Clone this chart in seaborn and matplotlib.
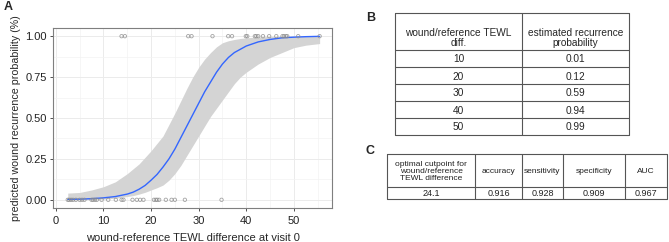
import numpy as np
import pandas as pd
import matplotlib
matplotlib.use("Agg")
import matplotlib.pyplot as plt
import seaborn as sns

# ---------------- data ----------------
pts_x_one = [13.8, 14.5, 27.8, 28.5, 32.9, 36.2, 37.0, 39.9, 40.2, 41.8, 42.1, 42.5,
             43.5, 44.8, 46.3, 47.6, 47.9, 48.3, 48.6, 50.9, 55.4]
pts_x_zero = [2.5, 2.8, 3.2, 3.6, 4.2, 5.0, 5.5, 6.0, 7.5, 7.8, 8.2, 8.6, 9.6, 11.0,
              12.6, 13.8, 14.2, 16.1, 17.0, 17.7, 18.4, 20.6, 21.0, 21.3, 21.7, 23.1,
              24.3, 25.0, 27.1, 34.8]

curve_x = [2.5, 5, 7.5, 10, 12.5, 15, 16.25, 17.5, 18.75, 20, 21.25, 22.5, 23.75, 25,
           26.25, 27.5, 28.75, 30, 31.25, 32.5, 33.75, 35, 36.25, 37.5, 38.75, 40,
           42.5, 45, 47.5, 50, 52.5, 55.4]
curve_p = [0.003, 0.004, 0.007, 0.012, 0.02, 0.035, 0.047, 0.065, 0.088, 0.12, 0.155,
           0.2, 0.25, 0.31, 0.38, 0.45, 0.52, 0.59, 0.66, 0.72, 0.78, 0.83, 0.87, 0.9,
           0.92, 0.94, 0.965, 0.98, 0.99, 0.994, 0.997, 0.999]
ci_low = [0.0, 0.0, 0.002, 0.004, 0.01, 0.02, 0.026, 0.035, 0.046, 0.06, 0.074, 0.09,
          0.12, 0.16, 0.21, 0.27, 0.33, 0.39, 0.45, 0.51, 0.56, 0.61, 0.66, 0.71, 0.75,
          0.78, 0.83, 0.87, 0.9, 0.93, 0.945, 0.955]
ci_high = [0.041, 0.045, 0.06, 0.08, 0.11, 0.16, 0.19, 0.22, 0.26, 0.30, 0.345, 0.39,
           0.46, 0.53, 0.605, 0.68, 0.75, 0.81, 0.86, 0.90, 0.935, 0.96, 0.972, 0.98,
           0.986, 0.99, 0.995, 0.998, 0.999, 1.0, 1.0, 1.0]

x_ticks = [0, 10, 20, 30, 40, 50]
y_ticks = [0.00, 0.25, 0.50, 0.75, 1.00]

tabB_header = ["wound/reference TEWL\ndiff.", "estimated recurrence\nprobability"]
tabB_diff = ["10", "20", "30", "40", "50"]
tabB_prob = ["0.01", "0.12", "0.59", "0.94", "0.99"]

tabC_header = ["optimal cutpoint for\nwound/reference\nTEWL difference", "accuracy",
               "sensitivity", "specificity", "AUC"]
tabC_values = ["24.1", "0.916", "0.928", "0.909", "0.967"]

# ---------------- figure ----------------
sns.set_style("white")
plt.rcParams['font.family'] = ['Liberation Sans', 'DejaVu Sans']

W, H = 669, 242
fig = plt.figure(figsize=(W / 100, H / 100), dpi=100)

# Panel A
ax = fig.add_axes([53 / W, 1 - 208 / H, (332 - 53) / W, (208 - 28) / H])
ax.set_facecolor("white")
ax.fill_between(curve_x, ci_low, ci_high, color="#d4d4d4", lw=0, zorder=2)
sns.lineplot(x=curve_x, y=curve_p, ax=ax, color="#3366FF", lw=1.0, zorder=3)
pts = pd.DataFrame({"x": pts_x_zero + pts_x_one,
                    "y": [0.0] * len(pts_x_zero) + [1.0] * len(pts_x_one)})
sns.scatterplot(data=pts, x="x", y="y", ax=ax, marker="o", s=6,
                facecolor="none", edgecolor="#8c8c8c", linewidth=0.6,
                alpha=0.8, zorder=4)

ax.set_xlim(-0.6, 58.0)
ax.set_ylim(-0.05, 1.05)
ax.set_xticks(x_ticks)
ax.set_yticks(y_ticks)
ax.set_yticklabels([f"{v:.2f}" for v in y_ticks])
ax.set_xticks([5, 15, 25, 35, 45, 55], minor=True)
ax.set_yticks([0.125, 0.375, 0.625, 0.875], minor=True)
ax.grid(True, which="major", color="#ebebeb", lw=0.7, zorder=0)
ax.grid(True, which="minor", color="#f3f3f3", lw=0.5, zorder=0)
ax.set_axisbelow(True)
for s in ax.spines.values():
    s.set_color("#7f7f7f")
    s.set_linewidth(0.8)
ax.tick_params(axis="both", which="major", length=2.5, width=0.6, color="#333333",
               labelsize=8, labelcolor="#222222", pad=2, bottom=True, left=True)
ax.tick_params(axis="x", which="major", pad=3)
ax.tick_params(axis="both", which="minor", length=0)
ax.set_xlabel("wound-reference TEWL difference at visit 0", fontsize=8.0, labelpad=5)
ax.set_ylabel("predicted wound recurrence probability (%)", fontsize=7.7, labelpad=3)

fig.text(4 / W, 1 - 7 / H, "A", fontsize=9, fontweight="bold", va="center", ha="left")
fig.text(366 / W, 1 - 18 / H, "B", fontsize=9, fontweight="bold", va="center", ha="left")
fig.text(366 / W, 1 - 151 / H, "C", fontsize=9, fontweight="bold", va="center", ha="left")

# overlay axes in pixel coords for tables
ov = fig.add_axes([0, 0, 1, 1])
ov.set_xlim(0, W)
ov.set_ylim(H, 0)
ov.axis("off")
ov.patch.set_alpha(0)
lc = "#555555"
lw = 0.8
fsB = 7.3

# Table B
bx0, bx1, bxm = 395, 629, 522
by0, byh = 13, 50
rh = (135 - byh) / len(tabB_diff)
by1 = byh + rh * len(tabB_diff)
ov.plot([bx0, bx1, bx1, bx0, bx0], [by0, by0, by1, by1, by0], color=lc, lw=lw)
ov.plot([bxm, bxm], [by0, by1], color=lc, lw=lw)
for i in range(len(tabB_diff)):
    yy = byh + rh * i
    ov.plot([bx0, bx1], [yy, yy], color=lc, lw=lw)
ov.text((bx0 + bxm) / 2, 38, tabB_header[0], ha="center", va="center",
        fontsize=fsB, linespacing=1.05)
ov.text((bxm + bx1) / 2, 38, tabB_header[1], ha="center", va="center",
        fontsize=fsB, linespacing=1.05)
for i, (d, p) in enumerate(zip(tabB_diff, tabB_prob)):
    yy = byh + rh * (i + 0.5) + 1
    ov.text((bx0 + bxm) / 2, yy, d, ha="center", va="center", fontsize=fsB)
    ov.text((bxm + bx1) / 2, yy, p, ha="center", va="center", fontsize=fsB)

# Table C
cxs = [387, 475, 522, 563, 625, 667]
cy0, cyh, cy1 = 154, 187, 199
ov.plot([cxs[0], cxs[-1], cxs[-1], cxs[0], cxs[0]], [cy0, cy0, cy1, cy1, cy0],
        color=lc, lw=lw)
for xx in cxs[1:-1]:
    ov.plot([xx, xx], [cy0, cy1], color=lc, lw=lw)
ov.plot([cxs[0], cxs[-1]], [cyh, cyh], color=lc, lw=lw)
for i in range(len(tabC_header)):
    xc = (cxs[i] + cxs[i + 1]) / 2
    ov.text(xc, 171.5, tabC_header[i], ha="center", va="center",
            fontsize=6.0, linespacing=1.1, color="#222222")
    ov.text(xc, (cyh + cy1) / 2 + 0.5, tabC_values[i], ha="center", va="center",
            fontsize=6.5, color="#222222")

fig.savefig("out.png", dpi=100)
